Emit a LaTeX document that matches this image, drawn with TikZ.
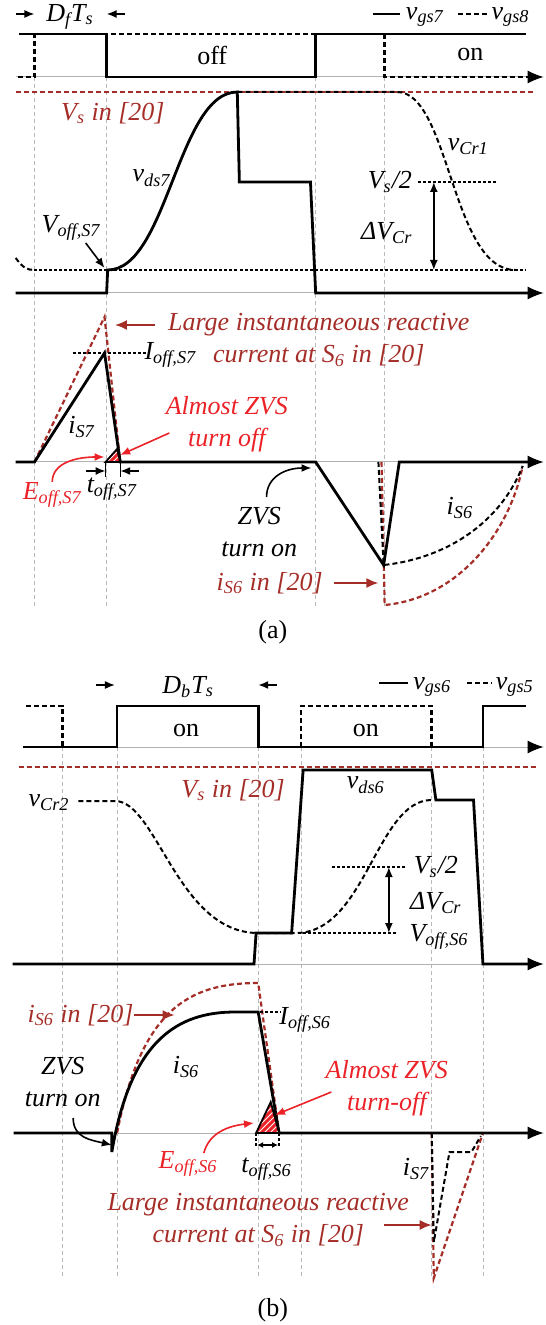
\documentclass[tikz,border=0pt]{standalone}
\usepackage{fontspec}
\setmainfont{Liberation Serif}
\usepackage{xcolor}
\usepackage{tikz}
\usetikzlibrary{arrows.meta, patterns}

\definecolor{refred}{RGB}{165,45,40}
\definecolor{zvsred}{RGB}{235,35,40}

\begin{document}
\begin{tikzpicture}[
    x=0.52265pt, y=-0.5pt,
    wave/.style={line width=1.4pt},
    dwave/.style={line width=1.4pt, dash pattern=on 2.5pt off 1.5pt},
    cwave/.style={line width=1pt, dash pattern=on 2.5pt off 1.5pt},
    refwave/.style={refred, line width=1.1pt, dash pattern=on 2.5pt off 1.5pt},
    level/.style={line width=0.7pt, dash pattern=on 1.5pt off 1pt},
    guide/.style={gray!55, line width=0.4pt, dash pattern=on 2pt off 1.5pt},
    axis/.style={gray!60, line width=0.5pt, -{Latex[color=black, length=8pt, width=6.5pt]}},
    lbl/.style={font=\itshape\fontsize{13}{16}\selectfont, inner sep=0pt, align=center},
    plain/.style={font=\fontsize{13}{16}\selectfont, inner sep=0pt},
    reflbl/.style={lbl, text=refred},
    zvslbl/.style={lbl, text=zvsred},
    arrow/.style={-{Latex[length=5pt, width=4pt]}, line width=0.8pt},
    refarrow/.style={-{Latex[length=6pt, width=5pt]}, line width=0.9pt, refred},
    zvsarrow/.style={arrow, zvsred},
    span/.style={{Latex[length=5pt, width=4pt]}-{Latex[length=5pt, width=4pt]}, line width=0.8pt},
    eoff/.style={preaction={fill=zvsred}, pattern=north east lines, pattern color=white, line width=0.9pt}
]
\useasboundingbox (0,0) rectangle (522.3,1325);

% ---------------- (a) ----------------
\foreach \x in {33,102,302,368}
    \draw[guide] (\x,77) -- (\x,607);

% gate signals
\draw[axis] (15,77) -- (520,77);
\draw[dwave] (17,77) -- (33,77) -- (33,34) -- (302,34);
\draw[dwave] (368,34) -- (368,77) -- (505,77);
\draw[wave] (18,34) -- (102,34) -- (102,77) -- (302,77) -- (302,34) -- (503,34);
\node[plain] (offa) at (203,55) {off};
\node[plain] (ona) at (450,55) {on};
\node[lbl] (dfts) at (67,17) {D\textsubscript{f}T\textsubscript{s}};
\coordinate (dfl) at (15,14);
\coordinate (dfr) at (120,14);
\draw[arrow] (dfl) -- ++(18,0);
\draw[arrow] (dfr) -- ++(-18,0);
\draw[wave] (357,14) -- (383,14);
\node[lbl, anchor=west] (lgsev) at (388,17) {v\textsubscript{gs7}};
\draw[dwave] (438,14) -- (467,14);
\node[lbl, anchor=west] (lgeig) at (470,17) {v\textsubscript{gs8}};

% drain-source voltage
\draw[refwave] (15,92) -- (512,92);
\node[reflbl] (vsa) at (108,113) {V\textsubscript{s} in [20]};
\draw[axis] (15,293) -- (520,293);
\draw[level] (33,270) -- (503,270);
\draw[cwave] (15,258) .. controls (22,268) and (26,270) .. (33,270);
\draw[cwave] (227,92) -- (380,92) .. controls (430,92) and (432,270) .. (493,270);
\draw[wave] (15,293) -- (102,293) -- (103,270) .. controls (160,270) and (170,92) .. (227,92)
    -- (229,182) -- (297,182) -- (302,293) -- (505,293);
\node[lbl] (vdsa) at (145,178) {v\textsubscript{ds7}};
\node[lbl] (vcra) at (448,147) {v\textsubscript{Cr1}};
\draw[level] (400,182) -- (475,182);
\node[lbl] (halfa) at (373,182) {V\textsubscript{s}/2};
\coordinate (hia) at (415,182);
\coordinate (loa) at (415,270);
\draw[span] (hia) -- (loa);
\node[lbl] (dva) at (370,233) {ΔV\textsubscript{Cr}};
\node[lbl] (voffa) at (68,228) {V\textsubscript{off,S7}};
\coordinate (voffpt) at (100,268);
\draw[arrow] (82,243) -- (voffpt);

% switch currents
\draw[axis] (15,462) -- (520,462);
\draw[refwave] (33,462) -- (100,317) -- (115,462);
\draw[refwave] (365,462) -- (368,605) .. controls (440,598) and (488,530) .. (500,466);
\draw[cwave] (362,462) -- (367,565) .. controls (430,558) and (480,520) .. (500,466);
\draw[wave] (15,462) -- (33,462) -- (100,353) -- (115,462) -- (302,462) -- (367,565)
    -- (382,462) -- (505,462);
\draw[eoff] (101,462) -- (112,449) -- (115,462) -- cycle;
\draw[level] (70,353) -- (140,353);
\node[lbl] (iofa) at (163,355) {I\textsubscript{off,S7}};
\node[lbl] (isa) at (78,427) {i\textsubscript{S7}};
\node[reflbl] (biga) at (305,340) {Large instantaneous reactive\\current at S\textsubscript{6} in [20]};
\coordinate (pka) at (110,325);
\draw[refarrow] (148,325) -- (pka);
\node[zvslbl] (zoffa) at (217,424) {Almost ZVS\\turn off};
\coordinate (tria) at (115,455);
\draw[zvsarrow] (162,433) -- (tria);
\node[zvslbl] (eoffa) at (50,495) {E\textsubscript{off,S7}};
\coordinate (tribase) at (100,457);
\draw[zvsarrow] (eoffa.north) .. controls +(0,-20) and +(-25,0) .. (tribase);
\node[lbl] (toffa) at (107,489) {t\textsubscript{off,S7}};
\draw[line width=0.6pt] (101,462) -- (101,477) (115,462) -- (115,477);
\draw[arrow] (82,471) -- (101,471);
\draw[arrow] (133,471) -- (115,471);
\node[lbl] (zona) at (248,532) {ZVS\\turn on};
\coordinate (zonpt) at (298,468);
\draw[arrow] (255,497) .. controls +(0,-20) and +(-25,0) .. (zonpt);
\node[lbl] (isixa) at (440,508) {i\textsubscript{S6}};
\node[reflbl] (isra) at (258,583) {i\textsubscript{S6} in [20]};
\coordinate (isrpt) at (362,583);
\draw[refarrow] (320,583) -- (isrpt);
\node[plain] (capa) at (261,632) {(a)};

% ---------------- (b) ----------------
\foreach \x in {60,112,247,288,413,462}
    \draw[guide] (\x,747) -- (\x,1278);

% gate signals
\draw[axis] (22,747) -- (520,747);
\draw[dwave] (25,706) -- (60,706) -- (60,747);
\draw[dwave] (288,747) -- (288,706) -- (413,706) -- (413,747);
\draw[wave] (22,747) -- (112,747) -- (112,706) -- (247,706) -- (247,747) -- (462,747)
    -- (462,706) -- (503,706);
\node[plain] (onb) at (178,730) {on};
\node[plain] (onc) at (350,730) {on};
\node[lbl] (dbts) at (180,687) {D\textsubscript{b}T\textsubscript{s}};
\coordinate (dbl) at (92,685);
\coordinate (dbr) at (265,685);
\draw[arrow] (dbl) -- ++(18,0);
\draw[arrow] (dbr) -- ++(-18,0);
\draw[wave] (363,683) -- (390,683);
\node[lbl, anchor=west] (lgsix) at (395,687) {v\textsubscript{gs6}};
\draw[dwave] (447,683) -- (470,683);
\node[lbl, anchor=west] (lgfiv) at (474,687) {v\textsubscript{gs5}};

% drain-source voltage
\draw[refwave] (18,767) -- (515,767);
\node[reflbl] (vsb) at (223,790) {V\textsubscript{s} in [20]};
\draw[axis] (12,964) -- (520,964);
\draw[level] (290,933) -- (380,933);
\draw[cwave] (75,801) -- (110,801) .. controls (150,801) and (170,933) .. (247,933) -- (283,933)
    .. controls (350,933) and (360,800) .. (413,800);
\draw[wave] (12,964) -- (243,964) -- (245,933) -- (279,933) -- (290,770) -- (413,770)
    -- (417,800) -- (453,800) -- (462,964) -- (505,964);
\node[lbl] (vcrb) at (47,803) {v\textsubscript{Cr2}};
\node[lbl] (vdsb) at (350,785) {v\textsubscript{ds6}};
\draw[level] (318,867) -- (388,867);
\node[lbl] (halfb) at (417,867) {V\textsubscript{s}/2};
\coordinate (hib) at (372,867);
\coordinate (lob) at (372,933);
\draw[span] (hib) -- (lob);
\node[lbl] (dvb) at (417,903) {ΔV\textsubscript{Cr}};
\node[lbl] (voffb) at (420,937) {V\textsubscript{off,S6}};

% switch currents
\draw[axis] (13,1133) -- (520,1133);
\draw[refwave] (112,1133) .. controls (135,1010) and (180,983) .. (247,983) -- (267,1133);
\draw[refwave] (413,1133) -- (415,1278) -- (462,1133);
\draw[cwave] (413,1133) -- (415,1242) -- (430,1152) -- (451,1152) -- (460,1136);
\draw[level] (215,1012) -- (268,1012);
\draw[wave] (13,1133) -- (107,1133) -- (107,1152) .. controls (125,1040) and (170,1012) .. (225,1012)
    -- (247,1012) -- (267,1133) -- (505,1133);
\draw[eoff] (245,1133) -- (259,1102) -- (267,1133) -- cycle;
\node[lbl] (iofb) at (292,1020) {I\textsubscript{off,S6}};
\node[lbl] (isb) at (178,1067) {i\textsubscript{S6}};
\node[reflbl] (isrb) at (77,1015) {i\textsubscript{S6} in [20]};
\coordinate (isrbpt) at (167,1015);
\draw[refarrow] (128,1015) -- (isrbpt);
\node[lbl] (zonb) at (60,1082) {ZVS\\turn on};
\coordinate (zonbpt) at (107,1145);
\draw[arrow] (70,1118) .. controls +(0,20) and +(-20,-5) .. (zonbpt);
\node[zvslbl] (zoffb) at (370,1088) {Almost ZVS\\turn-off};
\coordinate (trib) at (263,1115);
\draw[zvsarrow] (317,1092) -- (trib);
\node[zvslbl] (eoffb) at (180,1164) {E\textsubscript{off,S6}};
\coordinate (tribbase) at (243,1123);
\draw[zvsarrow] (195,1153) .. controls +(5,-20) and +(-25,3) .. (tribbase);
\node[lbl] (toffb) at (255,1169) {t\textsubscript{off,S6}};
\draw[level] (245,1133) -- (245,1147) (267,1133) -- (267,1147);
\draw[{Latex[length=3pt, width=3pt]}-{Latex[length=3pt, width=3pt]}, line width=0.8pt] (246,1145) -- (266,1145);
\node[lbl] (isevb) at (398,1169) {i\textsubscript{S7}};
\node[reflbl] (bigb) at (247,1220) {Large instantaneous reactive\\current at S\textsubscript{6} in [20]};
\coordinate (pkb) at (413,1225);
\draw[refarrow] (367,1225) -- (pkb);
\node[plain] (capb) at (261,1310) {(b)};
\end{tikzpicture}
\end{document}
